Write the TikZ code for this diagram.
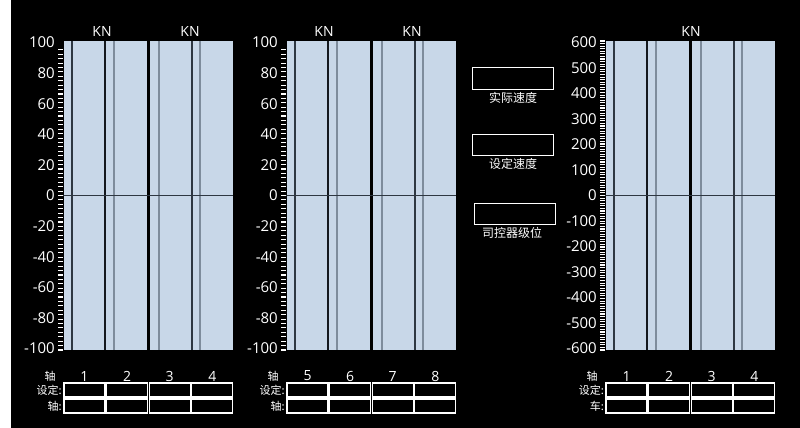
\documentclass[tikz,border=0pt]{standalone}
\usepackage{fontspec}
\setmainfont{Open Sans}
\newfontfamily\cjk{Noto Sans CJK SC}
\definecolor{barblue}{RGB}{200,215,232}
\definecolor{gridblack}{RGB}{20,24,30}
\definecolor{griddark}{RGB}{46,55,66}
\definecolor{gridgray}{RGB}{126,140,156}
\tikzset{
  numlbl/.style={text=white,inner sep=0pt,font=\fontsize{15}{18}\selectfont},
  knlbl/.style={text=white,inner sep=0pt,font=\fontsize{14}{16}\selectfont},
  cnlbl/.style={text=white,inner sep=0pt,font=\cjk\fontsize{11}{13}\selectfont},
  scaletick/.style={draw=white,line width=1.1pt},
  zeroline/.style={draw=griddark,line width=0.9pt},
  cell/.style={draw=white,line width=1.1pt,minimum width=41pt,minimum height=14pt,inner sep=0pt},
  showbox/.style={draw=white,line width=1pt,minimum width=81pt,minimum height=21pt,inner sep=0pt}
}
\begin{document}
\begin{tikzpicture}[x=1pt,y=-1pt]
\useasboundingbox (0,0) rectangle (800,428);
\fill[white] (0,0) rectangle (800,428);
\fill[black] (11,0) rectangle (800,428);
\foreach \L/\vmax/\nl/\nt/\ts/\first/\rowb/\n in {64/100/10/70/2/1/轴/pa,287/100/10/70/2/5/轴/pb,606/600/12/120/0/1/车/pc}{
  \fill[barblue] (\L,41) rectangle ++(169,309);
  \fill[black] (\L+82.5,41) rectangle ++(3.5,309);
  \foreach \dx/\col in {8/griddark,41/gridblack,50/gridgray,95/gridgray,128/griddark,136/gridgray}
    \draw[\col,line width=1.2pt] (\L+\dx,41) -- ++(0,309);
  \draw[zeroline] (\L-3,195.5) -- (\L+169,195.5);
  \foreach \i in {\ts,...,\nt}
    \draw[scaletick] (\L-6,{41+(309/\nt)*\i}) -- ++(5,0);
  \foreach \j in {0,...,\nl}{
    \pgfmathtruncatemacro\val{\vmax-\j*(2*\vmax/\nl)}
    \node[numlbl,anchor=east] (\n y\j) at (\L-9,{42.5+(306/\nl)*\j}) {\val};
  }
  \node[cnlbl] (\n axis) at (\L-14,376) {轴};
  \node[cnlbl,anchor=east] (\n set) at (\L-2,390) {设定:};
  \node[cnlbl,anchor=east] (\n act) at (\L-2,406) {\rowb:};
  \foreach \k in {0,...,3}{
    \pgfmathtruncatemacro\num{\first+\k}
    \node[numlbl,font=\fontsize{14}{16}\selectfont] (\n c\k) at (\L+20.5+\k*42.6,376) {\num};
    \node[cell] (\n s\k) at (\L+20.5+\k*42.6,390) {};
    \node[cell] (\n a\k) at (\L+20.5+\k*42.6,406) {};
  }
}
\node[knlbl] (kn1) at (102,32) {KN};
\node[knlbl] (kn2) at (190,32) {KN};
\node[knlbl] (kn3) at (324,32) {KN};
\node[knlbl] (kn4) at (412,32) {KN};
\node[knlbl] (kn5) at (691,32) {KN};
\node[showbox] (speed) at (513,78.5) {};
\node[cnlbl,font=\cjk\fontsize{12}{14}\selectfont] (speedlbl) at (513,98) {实际速度};
\node[showbox] (setspeed) at (513,144.5) {};
\node[cnlbl,font=\cjk\fontsize{12}{14}\selectfont] (setspeedlbl) at (513,164) {设定速度};
\node[showbox] (notch) at (514.5,213.5) {};
\node[cnlbl,font=\cjk\fontsize{12}{14}\selectfont] (notchlbl) at (512,233) {司控器级位};
\end{tikzpicture}
\end{document}
